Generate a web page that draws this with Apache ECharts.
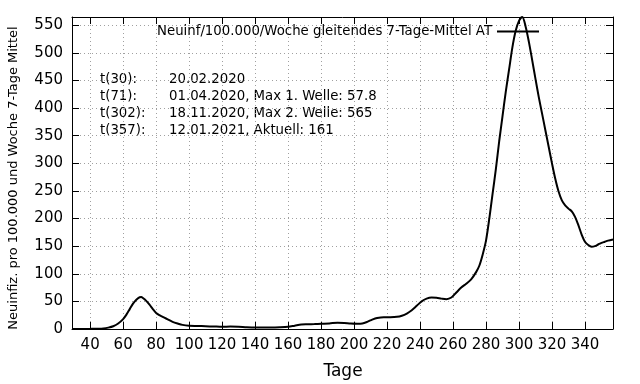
<!DOCTYPE html>
<html><head><meta charset="utf-8">
<script src="https://cdn.jsdelivr.net/npm/echarts@6/dist/echarts.min.js"></script>
<style>html,body{margin:0;padding:0;background:#fff}#c{width:640px;height:384px}</style>
</head><body><div id="c"></div>
<script>
const days = [29,35,40,45,48,51,54,57,60,62,64,66,68,70,71,72,74,76,78,80,82,84,86,88,90,93,96,100,105,110,115,120,125,130,135,140,145,150,155,160,164,168,172,176,180,185,190,194,198,202,205,208,211,214,218,222,226,229,232,235,238,241,244,247,250,253,256,259,262,265,268,271,274,276,278,280,282,284,286,288,290,292,294,296,298,300,302,304,306,308,310,312,314,316,318,320,322,324,326,328,330,332,334,336,338,340,342,344,346,348,350,352,354,357];
const values = [0,0,0.2,0.5,1,2.5,5,10,18,26,36,46,53,57.5,57.8,56,51,44,36,29,25,22,19,16,13,10,7.5,6,5.5,5,4.5,4,4.5,4,3,2.5,2.5,2.5,3,4,6,8,8.5,9,9.5,10,11.5,11,9.8,9.5,10,13,17,20,21.5,21.5,22,24,28,34,42,50,55,57,56.5,55,54,57,66,75,82,90,103,115,135,160,200,245,290,340,385,430,470,510,540,558,565,548,520,487,453,420,390,360,330,300,272,249,233,224,218,213,203,188,171,158,152,149,150,153,156,158,160,162];
const xTicks = [40,60,80,100,120,140,160,180,200,220,240,260,280,300,320,340];
const seriesName = 'Neuinf/100.000/Woche gleitendes 7-Tage-Mittel AT';
const infoLabels = ['t(30):','t(71):','t(302):','t(357):'];
const infoTexts = ['20.02.2020','01.04.2020, Max 1. Welle: 57.8','18.11.2020, Max 2. Welle: 565','12.01.2021, Aktuell: 161'];
const yName = 'Neuinfiz. pro 100.000 und Woche 7-Tage Mittel';
const xName = 'Tage';

const FF = 'DejaVu Sans';
const chart = echarts.init(document.getElementById('c'), null, {renderer:'canvas'});
const graphics = [];
infoLabels.forEach((t,i)=>{
  const y = 80 + i*17;
  graphics.push({type:'text', x:100, y:y, style:{text:t, font:'13.3px "DejaVu Sans"', fill:'#000', align:'left', verticalAlign:'middle', textAlign:'left', textVerticalAlign:'middle'}});
  graphics.push({type:'text', x:169, y:y, style:{text:infoTexts[i], font:'13.3px "DejaVu Sans"', fill:'#000', align:'left', verticalAlign:'middle', textAlign:'left', textVerticalAlign:'middle'}});
});
graphics.push({type:'text', x:14, y:178, rotation:Math.PI/2, style:{text:yName, font:'13px "DejaVu Sans"', fill:'#000', align:'center', verticalAlign:'middle', textAlign:'center', textVerticalAlign:'middle'}});
graphics.push({type:'text', x:343, y:372, style:{text:xName, font:'17px "DejaVu Sans"', fill:'#000', align:'center', verticalAlign:'middle', textAlign:'center', textVerticalAlign:'middle'}});

const axLine = {show:true, onZero:false, lineStyle:{color:'#000', width:1}};
const split = {show:true, lineStyle:{type:[1,3], color:'#a0a0a0', width:1}};
const option = {
  animation:false,
  backgroundColor:'#fff',
  grid:{left:72, right:27, top:17, bottom:55, containLabel:false},
  legend:{data:[seriesName], right:101, top:25, padding:0, align:'right', icon:'rect', itemWidth:42, itemHeight:2,
    textStyle:{fontSize:13.3, color:'#000', fontFamily:FF}},
  xAxis:[
    {type:'value', min:29, max:357, position:'bottom', axisLine:axLine,
     axisTick:{show:true, inside:true, length:7, customValues:xTicks, lineStyle:{color:'#000'}},
     axisLabel:{customValues:xTicks, color:'#000', fontSize:15, fontFamily:FF, margin:9},
     splitLine:split},
    {type:'value', min:29, max:357, position:'top', axisLine:axLine,
     axisTick:{show:true, inside:true, length:7, customValues:xTicks, lineStyle:{color:'#000'}},
     axisLabel:{show:false}, splitLine:{show:false}}
  ],
  yAxis:[
    {type:'value', min:0, max:565, interval:50, position:'left', axisLine:axLine,
     axisTick:{show:true, inside:true, length:7, lineStyle:{color:'#000'}},
     axisLabel:{color:'#000', fontSize:15, fontFamily:FF, margin:9, showMaxLabel:false},
     splitLine:split},
    {type:'value', min:0, max:565, interval:50, position:'right', axisLine:axLine,
     axisTick:{show:true, inside:true, length:7, lineStyle:{color:'#000'}},
     axisLabel:{show:false}, splitLine:{show:false}}
  ],
  series:[{
    name:seriesName, type:'line', xAxisIndex:0, yAxisIndex:0,
    data: days.map((d,i)=>[d, values[i]]),
    symbol:'none', showSymbol:false, smooth:0.3,
    lineStyle:{color:'#000', width:2}, itemStyle:{color:'#000'}
  }],
  graphic:graphics
};
chart.setOption(option);
</script>
</body></html>
